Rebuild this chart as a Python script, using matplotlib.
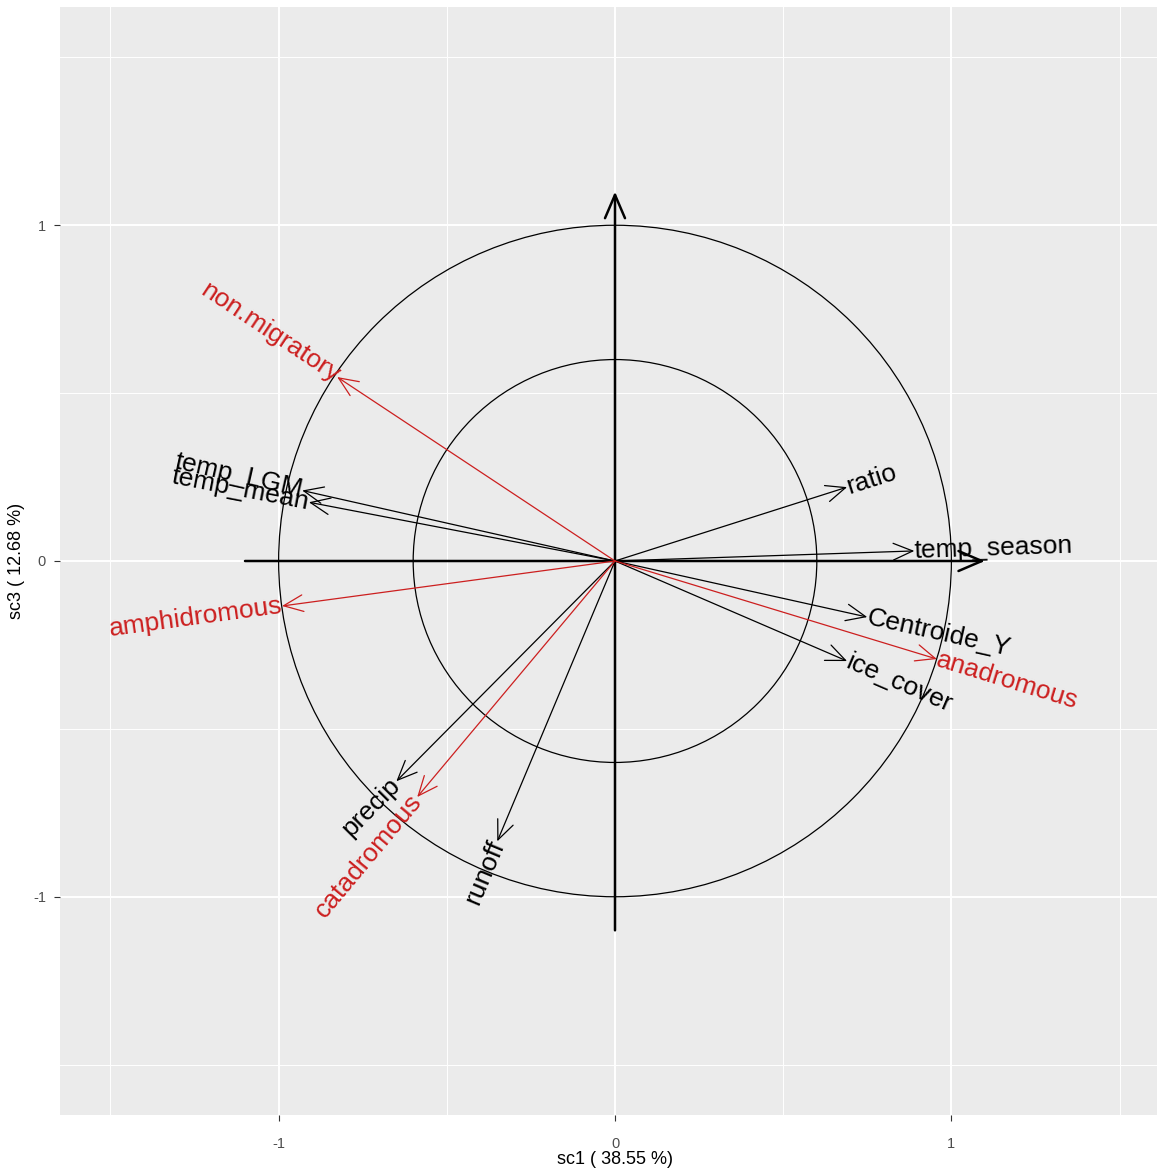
import numpy as np
import matplotlib
matplotlib.use("Agg")
import matplotlib.pyplot as plt
from matplotlib.patches import Circle

plt.rcParams["font.family"] = ["Liberation Sans", "DejaVu Sans"]
plt.rcParams["axes.unicode_minus"] = False

# ── Data: correlation circle coordinates (sc1, sc3) ───────────────────────────
env_names = ["temp_LGM", "temp_mean", "ratio", "temp_season",
             "Centroide_Y", "ice_cover", "precip", "runoff"]
env_x = [-0.93, -0.91, 0.69, 0.89, 0.75, 0.69, -0.65, -0.35]
env_y = [0.21, 0.175, 0.22, 0.03, -0.167, -0.298, -0.656, -0.835]

mig_names = ["non.migratory", "amphidromous", "anadromous", "catadromous"]
mig_x = [-0.826, -0.99, 0.957, -0.588]
mig_y = [0.548, -0.134, -0.292, -0.703]

circle_radii = [1.0, 0.6]
xlabel = "sc1 ( 38.55 %)"
ylabel = "sc3 ( 12.68 %)"

RED = "#cc1f1f"
PANEL = "#ebebeb"

# ── Figure ────────────────────────────────────────────────────────────────────
fig = plt.figure(figsize=(11.57, 11.71), dpi=100)
ax = fig.add_axes([60 / 1157, 56 / 1171, 1110 / 1157, 1108 / 1171])
ax.set_facecolor(PANEL)
ax.set_xlim(-1.65, 1.65)
ax.set_ylim(-1.65, 1.65)

ax.set_xticks([-1, 0, 1])
ax.set_yticks([-1, 0, 1])
ax.set_xticks([-1.5, -0.5, 0.5, 1.5], minor=True)
ax.set_yticks([-1.5, -0.5, 0.5, 1.5], minor=True)
ax.grid(which="major", color="white", linewidth=1.4)
ax.grid(which="minor", color="white", linewidth=0.7)
ax.set_axisbelow(True)
for s in ax.spines.values():
    s.set_visible(False)
ax.tick_params(which="major", length=4, width=0.8, color="#333333",
               labelsize=10.5, labelcolor="#4d4d4d")
ax.tick_params(axis="x", which="major", pad=12)
ax.tick_params(axis="y", which="major", pad=6)
ax.tick_params(which="minor", length=0)
ax.set_xlabel(xlabel, fontsize=13, labelpad=0)
ax.set_ylabel(ylabel, fontsize=13, labelpad=6)


def arrow(x0, y0, x1, y1, color, lw, scale=20):
    ax.annotate("", xy=(x1, y1), xytext=(x0, y0),
                arrowprops=dict(arrowstyle="->,head_length=0.7,head_width=0.3",
                                color=color, lw=lw, shrinkA=0, shrinkB=0,
                                mutation_scale=scale))


def label(name, x, y, color):
    ang = np.degrees(np.arctan2(y, x))
    if x < 0:
        rot, ha = ang + 180, "right"
    else:
        rot, ha = ang, "left"
    ax.text(x, y, name, rotation=rot, ha=ha, va="center",
            rotation_mode="anchor", fontsize=19, color=color)


# circles
for r in circle_radii:
    ax.add_patch(Circle((0, 0), r, fill=False, edgecolor="black", linewidth=0.9))

# axes arrows
arrow(-1.1, 0, 1.1, 0, "black", 1.8, scale=24)
arrow(0, -1.1, 0, 1.1, "black", 1.8, scale=24)

# variable arrows
for n, x, y in zip(env_names, env_x, env_y):
    arrow(0, 0, x, y, "black", 0.9)
    label(n, x, y, "black")

for n, x, y in zip(mig_names, mig_x, mig_y):
    arrow(0, 0, x, y, RED, 0.9)
    label(n, x, y, RED)

fig.savefig("out.png", dpi=100)
